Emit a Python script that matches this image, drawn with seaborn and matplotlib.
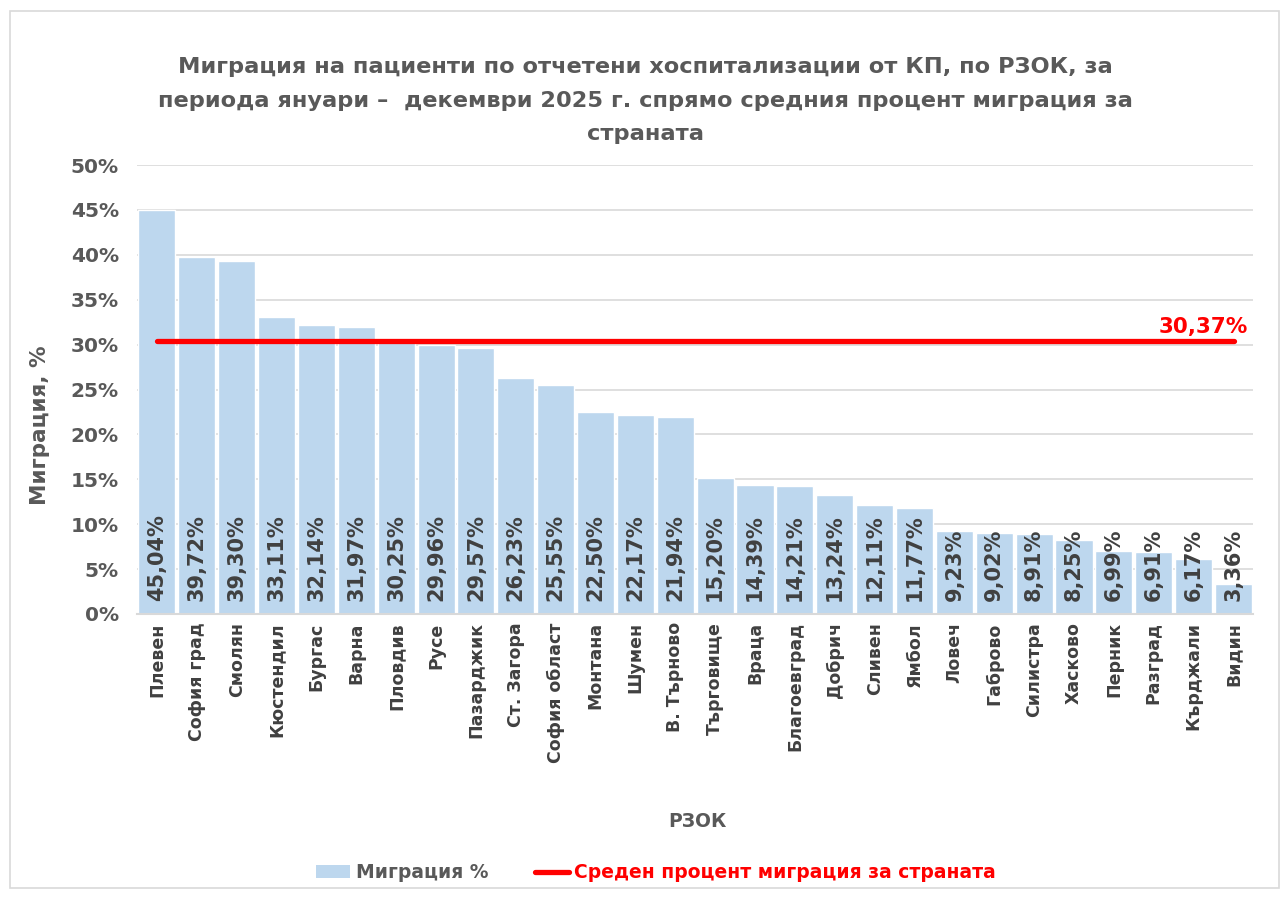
import matplotlib
matplotlib.use("Agg")
import matplotlib.pyplot as plt
import seaborn as sns
import pandas as pd
from matplotlib.patches import Patch, Rectangle
from matplotlib.lines import Line2D

regions = ["Плевен", "София град", "Смолян", "Кюстендил", "Бургас", "Варна",
           "Пловдив", "Русе", "Пазарджик", "Ст. Загора", "София област",
           "Монтана", "Шумен", "В. Търново", "Търговище", "Враца",
           "Благоевград", "Добрич", "Сливен", "Ямбол", "Ловеч", "Габрово",
           "Силистра", "Хасково", "Перник", "Разград", "Кърджали", "Видин"]
migration = [45.04, 39.72, 39.30, 33.11, 32.14, 31.97, 30.25, 29.96, 29.57,
             26.23, 25.55, 22.50, 22.17, 21.94, 15.20, 14.39, 14.21, 13.24,
             12.11, 11.77, 9.23, 9.02, 8.91, 8.25, 6.99, 6.91, 6.17, 3.36]
national_avg = 30.37
y_ticks = [0, 5, 10, 15, 20, 25, 30, 35, 40, 45, 50]

title = ("Миграция на пациенти по отчетени хоспитализации от КП, по РЗОК, за\n"
         "периода януари –  декември 2025 г. спрямо средния процент миграция за\n"
         "страната")

sns.set_theme(style="white")
plt.rcParams["font.family"] = ["DejaVu Sans"]

BLUE = "#BDD7EE"
GREY = "#595959"
DARK = "#404040"
RED = "#FF0000"

df = pd.DataFrame({"РЗОК": regions, "Миграция": migration})

fig = plt.figure(figsize=(12.84, 8.97), dpi=100)
ax = fig.add_axes([0.1067, 0.3155, 0.8695, 0.5005])

sns.barplot(data=df, x="РЗОК", y="Миграция", color=BLUE, saturation=1,
            width=0.93, ax=ax, zorder=2)

ax.set_ylim(0, 50)
ax.set_xlim(-0.5, len(regions) - 0.5)
ax.set_yticks(y_ticks)
ax.set_yticklabels([f"{t}%" for t in y_ticks], fontsize=14.5, fontweight="bold", color=GREY)
ax.set_xticks(range(len(regions)))
ax.set_xticklabels(regions, rotation=90, fontsize=12.5, fontweight="bold", color=DARK)
ax.tick_params(axis="y", length=0, pad=13)
ax.tick_params(axis="x", length=0, pad=6)
ax.yaxis.grid(True, color="#D9D9D9", linewidth=1.2, zorder=0)
ax.set_axisbelow(True)
for side in ["top", "right", "left"]:
    ax.spines[side].set_visible(False)
ax.spines["bottom"].set_color("#D9D9D9")
ax.spines["bottom"].set_linewidth(1.5)

ax.set_ylabel("Миграция, %", fontsize=15.5, fontweight="bold", color=GREY)
ax.set_xlabel("РЗОК", fontsize=13.5, fontweight="bold", color=GREY)
ax.yaxis.set_label_coords(-0.078, 0.42)
ax.xaxis.set_label_coords(0.502, -0.44)

# value labels inside bars
for i, v in enumerate(migration):
    ax.text(i, 1.4, f"{v:.2f}%".replace(".", ","), rotation=90, ha="center",
            va="bottom", fontsize=15, fontweight="bold", color=DARK, zorder=4)

# national average line
xs = list(range(len(regions)))
ax.plot([xs[0], xs[-1]], [national_avg, national_avg], color=RED, linewidth=3.8,
        solid_capstyle="round", zorder=3)
ax.text(xs[-1] + 0.35, national_avg + 0.5, f"{national_avg:.2f}%".replace(".", ","),
        ha="right", va="bottom", fontsize=15.5, fontweight="bold", color=RED, zorder=4)

fig.suptitle(title, x=0.503, y=0.936, fontsize=16.2, fontweight="bold", color=GREY,
             linespacing=1.84, va="top")

handles = [Patch(facecolor=BLUE, edgecolor="none"),
           Line2D([0], [0], color=RED, linewidth=3.8)]
leg = fig.legend(handles, ["Миграция %", "Среден процент миграция за страната"],
                 loc="center", bbox_to_anchor=(0.511, 0.027), ncol=2, frameon=False,
                 handlelength=1.8, handletextpad=0.3, columnspacing=2.5,
                 prop={"weight": "bold", "size": 13.5})
leg.get_texts()[0].set_color(GREY)
leg.get_texts()[1].set_color(RED)

fig.patches.append(Rectangle((0.008, 0.01), 0.988, 0.978, transform=fig.transFigure,
                             fill=False, edgecolor="#D9D9D9", linewidth=1.2))

fig.savefig("out.png", dpi=100)
